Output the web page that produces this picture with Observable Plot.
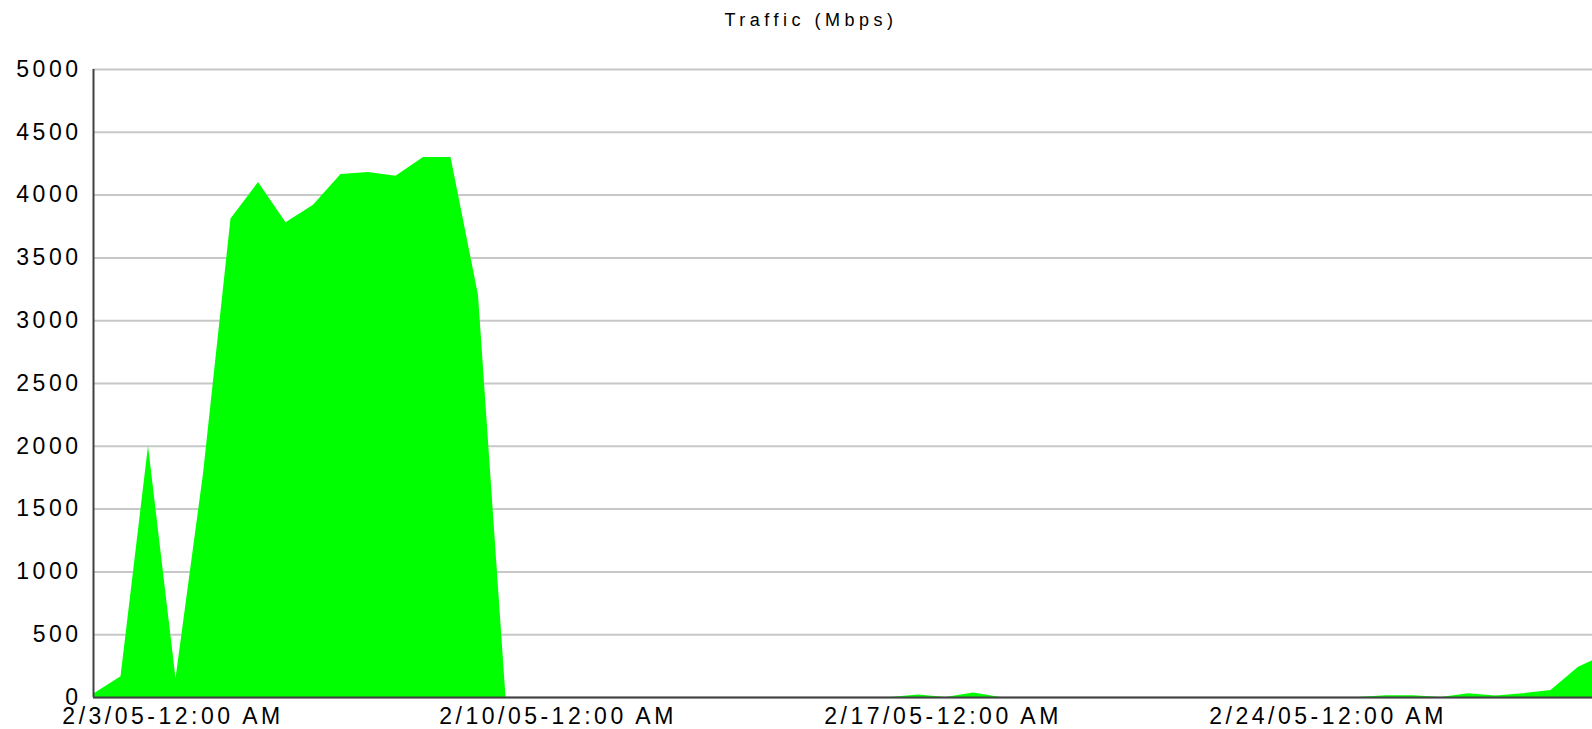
<!DOCTYPE html>
<html><head><meta charset="utf-8">
<script src="https://cdn.jsdelivr.net/npm/d3@7"></script>
<script src="https://cdn.jsdelivr.net/npm/@observablehq/plot@0.6"></script>
<style>
html,body{margin:0;padding:0;background:#fff;overflow:hidden;}
#chart svg text{letter-spacing:3.5px;}
</style></head><body><div id="chart"></div>
<script>
const title = "Traffic (Mbps)";
// sample times (UTC), every 12 hours
const times = [
 "2005-02-01T12:00Z","2005-02-02T00:00Z","2005-02-02T12:00Z","2005-02-03T00:00Z","2005-02-03T12:00Z",
 "2005-02-04T00:00Z","2005-02-04T12:00Z","2005-02-05T00:00Z","2005-02-05T12:00Z","2005-02-06T00:00Z",
 "2005-02-06T12:00Z","2005-02-07T00:00Z","2005-02-07T12:00Z","2005-02-08T00:00Z","2005-02-08T12:00Z",
 "2005-02-09T00:00Z","2005-02-09T12:00Z","2005-02-10T00:00Z","2005-02-10T12:00Z","2005-02-11T00:00Z",
 "2005-02-11T12:00Z","2005-02-12T00:00Z","2005-02-12T12:00Z","2005-02-13T00:00Z","2005-02-13T12:00Z",
 "2005-02-14T00:00Z","2005-02-14T12:00Z","2005-02-15T00:00Z","2005-02-15T12:00Z","2005-02-16T00:00Z",
 "2005-02-16T12:00Z","2005-02-17T00:00Z","2005-02-17T12:00Z","2005-02-18T00:00Z","2005-02-18T12:00Z",
 "2005-02-19T00:00Z","2005-02-19T12:00Z","2005-02-20T00:00Z","2005-02-20T12:00Z","2005-02-21T00:00Z",
 "2005-02-21T12:00Z","2005-02-22T00:00Z","2005-02-22T12:00Z","2005-02-23T00:00Z","2005-02-23T12:00Z",
 "2005-02-24T00:00Z","2005-02-24T12:00Z","2005-02-25T00:00Z","2005-02-25T12:00Z","2005-02-26T00:00Z",
 "2005-02-26T12:00Z","2005-02-27T00:00Z","2005-02-27T12:00Z","2005-02-28T00:00Z","2005-02-28T12:00Z",
 "2005-03-01T00:00Z"
];
// traffic in Mbps
const traffic = [
 25,165,2000,150,1780,3810,4100,3780,3920,4165,4180,4150,4300,4300,3200,0,
 0,0,0,0,0,0,0,0,0,0,0,0,0,0,
 20,0,35,
 0,0,0,0,0,0,0,0,0,0,0,0,0,0,
 14,14,0,30,12,30,55,240,345
];
const xTicks = ["2005-02-03T00:00Z","2005-02-10T00:00Z","2005-02-17T00:00Z","2005-02-24T00:00Z"];
const yTicks = [0,500,1000,1500,2000,2500,3000,3500,4000,4500,5000];
const xDomain = ["2005-02-01T12:00Z","2005-02-28T18:06Z"];

const data = times.map((t, i) => ({t: new Date(t), v: traffic[i]}));
const fmtX = d => {
  const h = d.getUTCHours(), h12 = h % 12 || 12;
  const mm = String(d.getUTCMinutes()).padStart(2, "0");
  return `${d.getUTCMonth() + 1}/${d.getUTCDate()}/${String(d.getUTCFullYear()).slice(2)}-${h12}:${mm} ${h < 12 ? "AM" : "PM"}`;
};

const chart = Plot.plot({
  width: 1592, height: 729,
  marginTop: 69, marginRight: 0, marginBottom: 32, marginLeft: 93,
  style: {fontFamily: "'Liberation Sans', Arial, sans-serif", fontSize: "23px", color: "#000", background: "#fff", overflow: "visible"},
  x: {type: "utc", domain: xDomain.map(d => new Date(d)), ticks: xTicks.map(d => new Date(d)), tickFormat: fmtX, tickSize: 0, tickPadding: 10, label: null},
  y: {domain: [0, 5000], ticks: yTicks, tickFormat: d => String(d), tickSize: 0, tickPadding: 12, label: null},
  marks: [
    Plot.ruleY(yTicks, {stroke: "#c8c8c8", strokeWidth: 2}),
    Plot.areaY(data, {x: "t", y: "v", fill: "#00ff00", curve: "linear", clip: true}),
    Plot.ruleX([new Date(xDomain[0])], {stroke: "#404040", strokeWidth: 2}),
    Plot.ruleY([0], {stroke: "#404040", strokeWidth: 2}),
    Plot.text([title], {text: d => d, frameAnchor: "top", lineAnchor: "middle", dy: -49, dx: -32, fontSize: 18})
  ]
});
// typographic tweaks: wide title spacing, x labels nudged left as in the source
const xLabels = new Set(xTicks.map(d => fmtX(new Date(d))));
chart.querySelectorAll("text").forEach(t => {
  if (t.textContent === title) t.style.letterSpacing = "4.5px";
  else if (xLabels.has(t.textContent)) t.setAttribute("dx", "-3");
});
document.getElementById("chart").appendChild(chart);
</script>
</body></html>
